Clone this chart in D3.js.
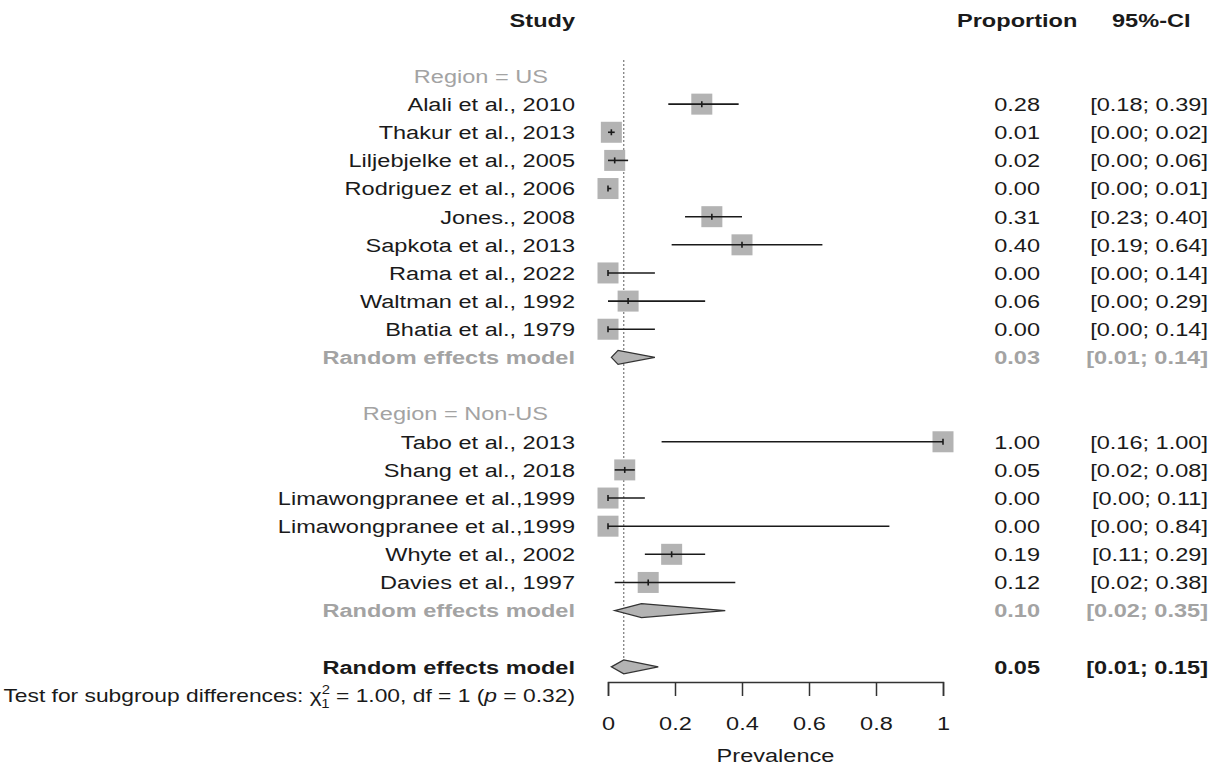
<!DOCTYPE html>
<html>
<head>
<meta charset="utf-8">
<script src="https://cdn.jsdelivr.net/npm/d3@7"></script>
<style>
  body { margin: 0; background: #fff; }
  text { font-family: "Liberation Sans", Arial, sans-serif; }
</style>
</head>
<body>
<svg width="1215" height="770"></svg>
<script>
const studies = [
    'Alali et al., 2010', 'Thakur et al., 2013', 'Liljebjelke et al., 2005', 'Rodriguez et al., 2006',
    'Jones., 2008', 'Sapkota et al., 2013', 'Rama et al., 2022', 'Waltman et al., 1992', 'Bhatia et al., 1979',
    'Tabo et al., 2013', 'Shang et al., 2018', 'Limawongpranee et al.,1999', 'Limawongpranee et al.,1999',
    'Whyte et al., 2002', 'Davies et al., 1997'
];
const studyRegion = ['US', 'US', 'US', 'US', 'US', 'US', 'US', 'US', 'US',
    'Non-US', 'Non-US', 'Non-US', 'Non-US', 'Non-US', 'Non-US'];
const proportion = [0.28, 0.01, 0.02, 0.00, 0.31, 0.40, 0.00, 0.06, 0.00, 1.00, 0.05, 0.00, 0.00, 0.19, 0.12];
const ciLower = [0.18, 0.00, 0.00, 0.00, 0.23, 0.19, 0.00, 0.00, 0.00, 0.16, 0.02, 0.00, 0.00, 0.11, 0.02];
const ciUpper = [0.39, 0.02, 0.06, 0.01, 0.40, 0.64, 0.14, 0.29, 0.14, 1.00, 0.08, 0.11, 0.84, 0.29, 0.38];

const regions = ['US', 'Non-US'];
const regionEstimate = [0.03, 0.10];
const regionLower = [0.01, 0.02];
const regionUpper = [0.14, 0.35];

// overall random effects model (unrounded estimate, printed as 0.05)
const overallEstimate = 0.047;
const overallLower = 0.01;
const overallUpper = 0.15;

const xTicks = [0, 0.2, 0.4, 0.6, 0.8, 1];

const GRAY = '#a3a3a3';
const INK = '#1a1a1a';
const FS = 19;       // font size
const STRETCH = 1.24; // the picture is a bit wide, so text is stretched horizontally
const fmt = d3.format('.2f');

//build the list of rows from the data
const rows = [];
regions.forEach((r, gi) => {
    rows.push({ type: 'heading', label: 'Region = ' + r });
    studies.forEach((s, i) => {
        if (studyRegion[i] === r) rows.push({ type: 'study', label: s, est: proportion[i], lo: ciLower[i], hi: ciUpper[i] });
    });
    rows.push({ type: 'group', label: 'Random effects model', est: regionEstimate[gi], lo: regionLower[gi], hi: regionUpper[gi] });
    rows.push({ type: 'blank' });
});
rows.push({ type: 'overall', label: 'Random effects model', est: overallEstimate, lo: overallLower, hi: overallUpper });
rows.push({ type: 'test' });
rows.forEach((r, i) => r.row = i);

const xScale = d3.scaleLinear().domain([0, 1]).range([608, 943]);
const yScale = d3.scaleLinear().domain([0, rows.length - 1]).range([76, 695]);

const svg = d3.select('svg');

function label(x, y, str, anchor, opts = {}) {
    const g = svg.append('g').attr('transform', `translate(${x},${y})`);
    const t = g.append('text')
        .attr('transform', `scale(${STRETCH},1)`)
        .attr('text-anchor', anchor)
        .attr('dy', '0.36em')
        .attr('font-size', opts.size || FS)
        .attr('font-weight', opts.bold ? 'bold' : 'normal')
        .attr('fill', opts.color || INK)
        .text(str);
    return t;
}

//headers
label(575, 20, 'Study', 'end', { bold: true });
label(957, 20, 'Proportion', 'start', { bold: true });
label(1112, 20, '95%-CI', 'start', { bold: true });

//reference line at the overall estimate
svg.append('line')
    .attr('x1', xScale(overallEstimate)).attr('x2', xScale(overallEstimate))
    .attr('y1', 60).attr('y2', yScale(21) - 2)
    .attr('stroke', '#777').attr('stroke-width', 1.2)
    .attr('stroke-dasharray', '2,2');

const studyRows = rows.filter(r => r.type === 'study');
const diamondRows = rows.filter(r => r.type === 'group' || r.type === 'overall');

//study squares
svg.selectAll('.box')
    .data(studyRows)
    .enter()
    .append('rect')
    .classed('box', true)
    .attr('x', d => xScale(d.est) - 10.5)
    .attr('y', d => yScale(d.row) - 10.5)
    .attr('width', 21)
    .attr('height', 21)
    .attr('fill', '#b3b3b3');

//confidence intervals
svg.selectAll('.ci')
    .data(studyRows)
    .enter()
    .append('line')
    .classed('ci', true)
    .attr('x1', d => xScale(d.lo))
    .attr('x2', d => xScale(d.hi))
    .attr('y1', d => yScale(d.row))
    .attr('y2', d => yScale(d.row))
    .attr('stroke', INK)
    .attr('stroke-width', 1.6);

svg.selectAll('.mid')
    .data(studyRows)
    .enter()
    .append('line')
    .classed('mid', true)
    .attr('x1', d => xScale(d.est))
    .attr('x2', d => xScale(d.est))
    .attr('y1', d => yScale(d.row) - 3)
    .attr('y2', d => yScale(d.row) + 3)
    .attr('stroke', INK)
    .attr('stroke-width', 1.6);

//diamonds
svg.selectAll('.diamond')
    .data(diamondRows)
    .enter()
    .append('path')
    .classed('diamond', true)
    .attr('d', d => {
        const y = yScale(d.row);
        return `M${xScale(d.lo)},${y}L${xScale(d.est)},${y - 7}L${xScale(d.hi)},${y}L${xScale(d.est)},${y + 7}Z`;
    })
    .attr('fill', '#b3b3b3')
    .attr('stroke', '#333')
    .attr('stroke-width', 1.3);

//left and right columns
rows.forEach(r => {
    const y = yScale(r.row);
    if (r.type === 'heading') {
        label(548, y, r.label, 'end', { color: GRAY });
    } else if (r.type === 'study' || r.type === 'group' || r.type === 'overall') {
        const opts = r.type === 'study' ? {} : r.type === 'group' ? { bold: true, color: GRAY } : { bold: true };
        label(575, y, r.label, 'end', opts);
        label(1040, y, fmt(r.est), 'end', opts);
        label(1208, y, `[${fmt(r.lo)}; ${fmt(r.hi)}]`, 'end', opts);
    } else if (r.type === 'test') {
        const t = label(575, y, '', 'end', { size: 18.4 });
        t.append('tspan').text('Test for subgroup differences: χ');
        t.append('tspan').attr('font-size', 12).attr('dy', -8).text('2');
        t.append('tspan').attr('font-size', 12).attr('dx', -7).attr('dy', 14).text('1');
        t.append('tspan').attr('dy', -6).text(' = 1.00, df = 1 (');
        t.append('tspan').attr('font-style', 'italic').text('p');
        t.append('tspan').text(' = 0.32)');
    }
});

//x axis
const axis = svg.append('g')
    .attr('transform', 'translate(0,682)')
    .call(d3.axisBottom(xScale).tickValues(xTicks).tickSize(14).tickSizeOuter(14).tickFormat(d3.format('~g')));
axis.select('.domain').attr('stroke', '#333').attr('stroke-width', 1.5);
axis.selectAll('.tick line').attr('stroke', '#333').attr('stroke-width', 1.5);
axis.selectAll('.tick text')
    .attr('font-size', FS)
    .attr('fill', INK)
    .attr('y', 35)
    .attr('dy', '0.71em')
    .attr('transform', `scale(${STRETCH},1)`)
    .attr('font-family', '"Liberation Sans", Arial, sans-serif');

label(xScale(0.5), 755, 'Prevalence', 'middle');
</script>
</body>
</html>
